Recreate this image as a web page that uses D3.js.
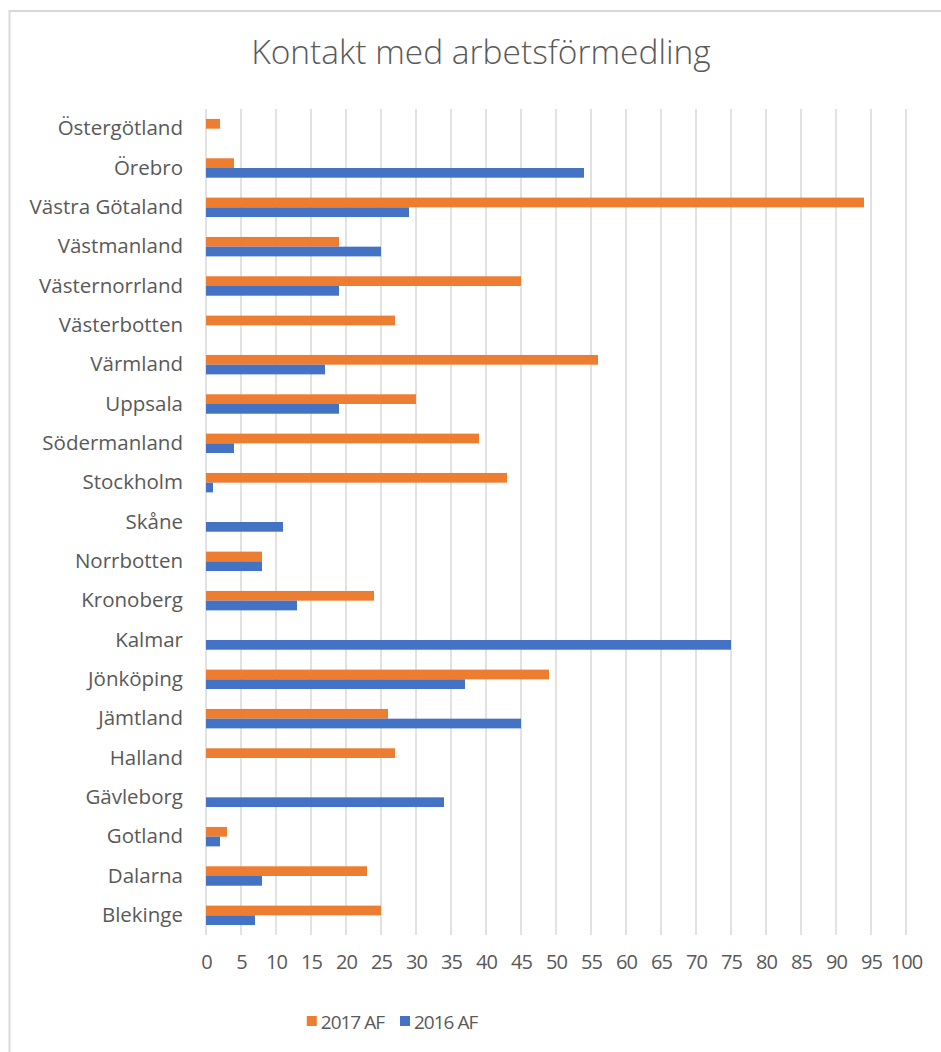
<!DOCTYPE html>
<html>
<head>
<meta charset="utf-8">
<script src="https://cdn.jsdelivr.net/npm/d3@7"></script>
<style>
  body { margin: 0; background: #fff; }
  text { font-family: "Open Sans", sans-serif; fill: #595959; }
</style>
</head>
<body>
<script>
/* Kontakt med arbetsförmedling - grouped horizontal bars */

const regions = ["Östergötland", "Örebro", "Västra Götaland", "Västmanland", "Västernorrland",
  "Västerbotten", "Värmland", "Uppsala", "Södermanland", "Stockholm", "Skåne", "Norrbotten",
  "Kronoberg", "Kalmar", "Jönköping", "Jämtland", "Halland", "Gävleborg", "Gotland", "Dalarna", "Blekinge"];

const af2017 = [2, 4, 94, 19, 45, 27, 56, 30, 39, 43, 0, 8, 24, 0, 49, 26, 27, 0, 3, 23, 25];
const af2016 = [0, 54, 29, 25, 19, 0, 17, 19, 4, 1, 11, 8, 13, 75, 37, 45, 0, 34, 2, 8, 7];

const seriesNames = ["2017 AF", "2016 AF"];
const xTicks = d3.range(0, 101, 5);

/* Chart size */

const w = 941,
      h = 1052,
      plotLeft = 206,
      plotRight = 906,
      plotTop = 109,
      plotBottom = 935;

const colors = { "2017 AF": "#ED7D31", "2016 AF": "#4472C4" };

const rows = regions.map((r, i) => ({ region: r, "2017 AF": af2017[i], "2016 AF": af2016[i] }));

const svg = d3.select("body")
  .append("svg")
  .attr("width", w)
  .attr("height", h);

/* Chart frame */

svg.append("rect")
  .attr("x", 9.5)
  .attr("y", 11)
  .attr("width", w + 20)
  .attr("height", h + 20)
  .attr("fill", "#fff")
  .attr("stroke", "#d9d9d9")
  .attr("stroke-width", 2);

/* Title */

svg.append("text")
  .attr("x", 481)
  .attr("y", 64)
  .attr("text-anchor", "middle")
  .style("font-size", "33.5px")
  .style("font-weight", 300)
  .text("Kontakt med arbetsförmedling");

/* Scales */

const x = d3.scaleLinear().domain([0, 100]).range([plotLeft, plotRight]);

const y = d3.scaleBand()
  .domain(regions)
  .range([plotTop, plotBottom]);

const bh = y.bandwidth() / 4.05;
const ySub = d3.scaleBand()
  .domain(seriesNames)
  .range([y.bandwidth() / 2 - bh, y.bandwidth() / 2 + bh]);

/* Gridlines */

svg.append("g")
  .selectAll("line")
  .data(xTicks)
  .enter()
  .append("line")
  .attr("x1", d => x(d))
  .attr("x2", d => x(d))
  .attr("y1", plotTop)
  .attr("y2", plotBottom)
  .attr("stroke", "#d9d9d9")
  .attr("stroke-width", 1.5);

/* Bars */

const groups = svg.append("g")
  .selectAll("g")
  .data(rows)
  .enter()
  .append("g")
  .attr("transform", d => "translate(0," + y(d.region) + ")");

groups.selectAll("rect")
  .data(d => seriesNames.map(s => ({ s: s, v: d[s] })).filter(e => e.v > 0))
  .enter()
  .append("rect")
  .attr("x", x(0))
  .attr("y", d => ySub(d.s))
  .attr("width", d => x(d.v) - x(0))
  .attr("height", ySub.bandwidth())
  .attr("fill", d => colors[d.s]);

/* Category axis */

const yAxis = svg.append("g")
  .attr("transform", "translate(" + plotLeft + ",0)")
  .call(d3.axisLeft(y).tickSize(0).tickPadding(23));
yAxis.select(".domain").remove();
yAxis.selectAll("text")
  .style("font-size", "20.5px")
  .attr("fill", "#595959");

/* Value axis */

const xAxis = svg.append("g")
  .attr("transform", "translate(0," + plotBottom + ")")
  .call(d3.axisBottom(x).tickValues(xTicks).tickSize(0).tickPadding(20));
xAxis.select(".domain").remove();
xAxis.selectAll("text")
  .style("font-size", "20px")
  .style("letter-spacing", "-1px")
  .attr("fill", "#595959");

/* Legend */

const legend = svg.append("g");
let lx = 0;
seriesNames.forEach((s) => {
  legend.append("rect")
    .attr("x", lx)
    .attr("y", 1016)
    .attr("width", 10)
    .attr("height", 10)
    .attr("fill", colors[s]);
  const t = legend.append("text")
    .attr("x", lx + 14)
    .attr("y", 1029)
    .style("font-size", "19px")
    .style("letter-spacing", "-1px")
    .text(s);
  lx += 14 + t.node().getComputedTextLength() + 16;
});
legend.attr("transform", "translate(" + (392 - (lx - 16) / 2) + ",0)");
</script>
</body>
</html>
